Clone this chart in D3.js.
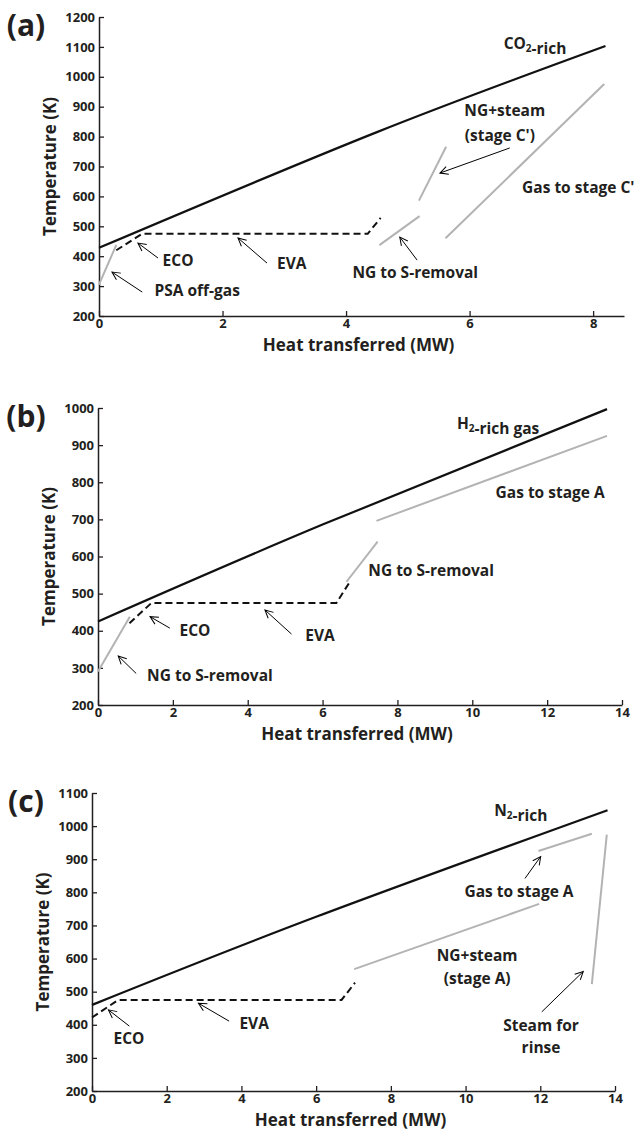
<!DOCTYPE html>
<html lang="en">
<head>
<meta charset="utf-8" />
<title>Composite curves</title>
<style>
html, body {
	margin: 0;
	padding: 0;
	background: #fff;
}
svg {
	display: block;
}
text {
	font-family: "Open Sans", Lato, sans-serif;
	font-weight: bold;
	fill: #231f20;
}
.tick text {
	font-size: 13px;
}
.lbl {
	font-size: 15.5px;
	text-anchor: middle;
	dominant-baseline: central;
}
.ttl {
	font-size: 17px;
	text-anchor: middle;
	dominant-baseline: central;
}
</style>
</head>
<body>
<svg width="636" height="1131"></svg>

<script src="https://cdn.jsdelivr.net/npm/d3@7"></script>
<script>
// ---- (a) ----
var aXTicks = [0, 2, 4, 6, 8];
var aYTicks = [200, 300, 400, 500, 600, 700, 800, 900, 1000, 1100, 1200];
var aHot = [[0, 428], [4.5, 815], [8.2, 1103]];                    // CO2-rich
var aWater = [[0.28, 420], [0.7, 475], [4.35, 475], [4.56, 528]]; // ECO / EVA
var aPsa = [[0, 305], [0.28, 438]];
var aNgS = [[4.54, 437], [5.19, 534]];
var aNgSteam = [[5.18, 586], [5.62, 766]];
var aGasC = [[5.61, 460], [8.18, 976]];

// ---- (b) ----
var bXTicks = [0, 2, 4, 6, 8, 10, 12, 14];
var bYTicks = [200, 300, 400, 500, 600, 700, 800, 900, 1000];
var bHot = [[0, 425], [6, 686], [13.6, 997]];                      // H2-rich gas
var bWater = [[0.84, 420], [1.43, 475], [6.37, 475], [6.73, 532]];
var bNgS1 = [[0, 290], [0.85, 438]];
var bNgS2 = [[6.64, 532], [7.47, 640]];
var bGasA = [[7.44, 696], [13.6, 925]];

// ---- (c) ----
var cXTicks = [0, 2, 4, 6, 8, 10, 12, 14];
var cYTicks = [200, 300, 400, 500, 600, 700, 800, 900, 1000, 1100];
var cHot = [[0, 460], [6, 726], [13.8, 1048]];                     // N2-rich
var cWater = [[0, 422], [0.7, 475], [6.68, 475], [7.04, 527]];
var cNgSteam = [[7.02, 568], [11.97, 765]];
var cGasA = [[11.95, 925], [13.38, 977]];
var cSteam = [[13.38, 523], [13.78, 974]];

// panel set-up: box in pixels, domains, lines, labels and arrows (in data units)
var panels = [
	{
		tag: '(a)', left: 99, top: 17, right: 624, bottom: 316,
		xMax: 8.5, yMin: 200, yMax: 1200, xTicks: aXTicks, yTicks: aYTicks,
		lines: [
			{pts: aHot, kind: 'hot'}, {pts: aWater, kind: 'water'}, {pts: aPsa, kind: 'cold'},
			{pts: aNgS, kind: 'cold'}, {pts: aNgSteam, kind: 'cold'}, {pts: aGasC, kind: 'cold'}
		],
		labels: [
			{t: 'CO{2}-rich', x: 7.06, y: 1113},
			{t: 'NG+steam', x: 6.57, y: 889},
			{t: "(stage C')", x: 6.49, y: 805},
			{t: "Gas to stage C'", x: 7.76, y: 631},
			{t: 'NG to S-removal', x: 5.12, y: 347},
			{t: 'ECO', x: 1.28, y: 387},
			{t: 'EVA', x: 3.12, y: 377},
			{t: 'PSA off-gas', x: 1.59, y: 287}
		],
		arrows: [
			[0.955, 394, 0.63, 444], [2.72, 377, 2.25, 461], [0.70, 280, 0.21, 347],
			[5.15, 387, 4.87, 464], [6.65, 762, 5.52, 678]
		]
	},
	{
		tag: '(b)', left: 98, top: 408, right: 622, bottom: 705,
		xMax: 14, yMin: 200, yMax: 1000, xTicks: bXTicks, yTicks: bYTicks,
		lines: [
			{pts: bHot, kind: 'hot'}, {pts: bWater, kind: 'water'}, {pts: bNgS1, kind: 'cold'},
			{pts: bNgS2, kind: 'cold'}, {pts: bGasA, kind: 'cold'}
		],
		labels: [
			{t: 'H{2}-rich gas', x: 10.69, y: 960},
			{t: 'Gas to stage A', x: 12.08, y: 774},
			{t: 'NG to S-removal', x: 8.9, y: 564},
			{t: 'ECO', x: 2.59, y: 402},
			{t: 'EVA', x: 5.93, y: 389},
			{t: 'NG to S-removal', x: 2.99, y: 281}
		],
		arrows: [
			[1.92, 407, 1.39, 438], [5.17, 391, 4.46, 456], [1.02, 285, 0.54, 332]
		]
	},
	{
		tag: '(c)', left: 92, top: 793, right: 615, bottom: 1091,
		xMax: 14, yMin: 200, yMax: 1100, xTicks: cXTicks, yTicks: cYTicks,
		lines: [
			{pts: cHot, kind: 'hot'}, {pts: cWater, kind: 'water'}, {pts: cNgSteam, kind: 'cold'},
			{pts: cGasA, kind: 'cold'}, {pts: cSteam, kind: 'cold'}
		],
		labels: [
			{t: 'N{2}-rich', x: 11.48, y: 1049},
			{t: 'Gas to stage A', x: 11.43, y: 804},
			{t: 'NG+steam', x: 10.31, y: 611},
			{t: '(stage A)', x: 10.31, y: 541},
			{t: 'Steam for', x: 12.02, y: 399},
			{t: 'rinse', x: 12.02, y: 333},
			{t: 'ECO', x: 0.99, y: 360},
			{t: 'EVA', x: 4.34, y: 405}
		],
		arrows: [
			[1.0, 396, 0.44, 445], [3.67, 411, 2.85, 465],
			[11.59, 842, 12.01, 908], [12.04, 439, 13.15, 561]
		]
	}
];

var svg = d3.select('svg');

// open arrow head
svg.append('defs').append('marker')
	.attr('id', 'head')
	.attr('markerUnits', 'userSpaceOnUse')
	.attr('viewBox', '-10 -6 12 12')
	.attr('markerWidth', 12).attr('markerHeight', 12)
	.attr('refX', 0).attr('refY', 0)
	.attr('orient', 'auto')
	.append('path')
	.attr('d', 'M-8,-4 L0,0 L-8,4')
	.attr('fill', 'none').attr('stroke', '#000').attr('stroke-width', 1);

var lineStyle = {
	hot: {stroke: '#111', width: 2.2, dash: null},
	water: {stroke: '#111', width: 2, dash: '7,4'},
	cold: {stroke: '#b3b3b3', width: 2, dash: null}
};

panels.forEach(function(p) {
	var x = d3.scaleLinear().domain([0, p.xMax]).range([p.left, p.right]);
	var y = d3.scaleLinear().domain([p.yMin, p.yMax]).range([p.bottom, p.top]);
	var g = svg.append('g');

	// axes, ticks pointing inwards
	var xa = g.append('g')
		.attr('transform', 'translate(0,' + p.bottom + ')')
		.call(d3.axisBottom(x).tickValues(p.xTicks).tickFormat(d3.format('d'))
			.tickSizeInner(-5).tickSizeOuter(0).tickPadding(3));
	var ya = g.append('g')
		.attr('transform', 'translate(' + p.left + ',0)')
		.call(d3.axisLeft(y).tickValues(p.yTicks).tickFormat(d3.format('d'))
			.tickSizeInner(-5).tickSizeOuter(0).tickPadding(4));
	[xa, ya].forEach(function(a) {
		a.select('.domain').attr('stroke', '#231f20').attr('stroke-width', 1.5);
		a.selectAll('.tick line').attr('stroke', '#231f20').attr('stroke-width', 1.3);
		a.selectAll('.tick text').attr('fill', '#231f20');
		a.attr('font-family', null).attr('font-size', null);
	});

	// axis titles
	g.append('text').attr('class', 'ttl')
		.attr('x', (p.left + p.right) / 2 - 3).attr('y', p.bottom + 28)
		.text('Heat transferred (MW)');
	g.append('text').attr('class', 'ttl')
		.attr('transform', 'translate(' + (p.left - 50) + ',' + (p.top + p.bottom) / 2 + ') rotate(-90)')
		.text('Temperature (K)');

	// panel letter
	g.append('text').attr('class', 'lbl')
		.attr('x', 26).attr('y', p.top + 7)
		.style('font-size', '30px')
		.text(p.tag);

	// curves
	var line = d3.line().curve(d3.curveNatural)
		.x(function(d) { return x(d[0]); }).y(function(d) { return y(d[1]); });
	var segs = d3.line().x(function(d) { return x(d[0]); }).y(function(d) { return y(d[1]); });
	g.selectAll('path.curve')
		.data(p.lines)
		.enter()
		.append('path')
		.attr('class', 'curve')
		.attr('d', function(d) { return d.kind === 'hot' ? line(d.pts) : segs(d.pts); })
		.attr('fill', 'none')
		.attr('stroke', function(d) { return lineStyle[d.kind].stroke; })
		.attr('stroke-width', function(d) { return lineStyle[d.kind].width; })
		.attr('stroke-dasharray', function(d) { return lineStyle[d.kind].dash; });

	// arrows
	g.selectAll('line.arr')
		.data(p.arrows)
		.enter()
		.append('line')
		.attr('class', 'arr')
		.attr('x1', function(d) { return x(d[0]); })
		.attr('y1', function(d) { return y(d[1]); })
		.attr('x2', function(d) { return x(d[2]); })
		.attr('y2', function(d) { return y(d[3]); })
		.attr('stroke', '#000')
		.attr('stroke-width', 1)
		.attr('marker-end', 'url(#head)');

	// labels, {n} becomes a subscript
	p.labels.forEach(function(l) {
		var t = g.append('text').attr('class', 'lbl')
			.attr('x', x(l.x)).attr('y', y(l.y));
		l.t.split(/(\{[^}]*\})/).forEach(function(part) {
			if (!part) return;
			if (part[0] === '{') {
				t.append('tspan').attr('dy', 5).style('font-size', '10px').text(part.slice(1, -1));
				t.append('tspan').attr('dy', -5).text('');
			} else {
				t.append('tspan').text(part);
			}
		});
	});
});
</script>
</body>
</html>
